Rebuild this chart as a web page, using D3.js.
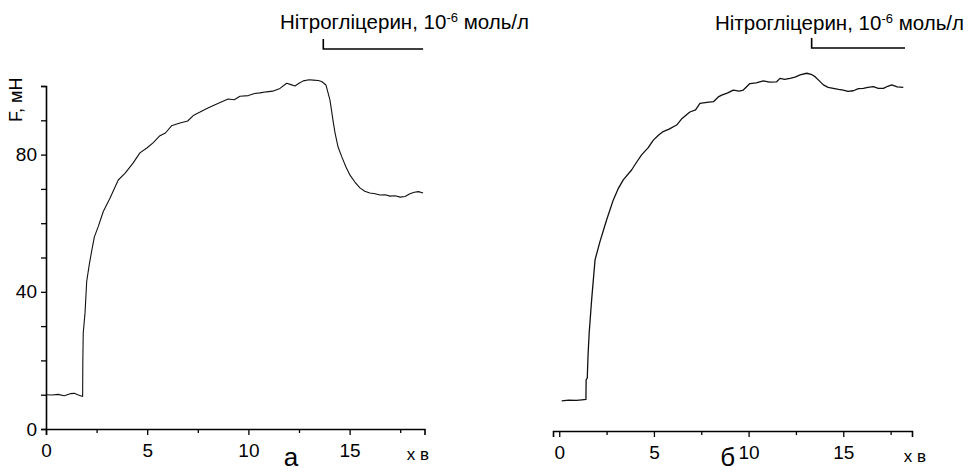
<!DOCTYPE html>
<html>
<head>
<meta charset="utf-8">
<script src="https://cdn.jsdelivr.net/npm/d3@7"></script>
<style>
  body { margin: 0; background: #fff; }
  svg { display: block; font-family: "Liberation Sans", Arial, sans-serif; }
</style>
</head>
<body>
<svg id="chart" width="978" height="472"></svg>
<script>
// панель а: час, хв / сила, мН
const timeA = [0.0, 0.3, 0.6, 0.9, 1.2, 1.4, 1.6, 1.81, 1.82, 1.84, 1.93, 2.01, 2.14, 2.26, 2.39, 2.58, 2.83, 3.16, 3.57,
  3.9, 4.3, 4.64, 5.0, 5.3, 5.63, 5.9, 6.2, 6.62, 7.0, 7.3, 7.61, 8.0, 8.3, 8.6, 9.0, 9.3, 9.58, 10.0, 10.3, 10.57,
  10.9, 11.2, 11.56, 11.89, 12.1, 12.3, 12.5, 12.71, 13.0, 13.2, 13.45, 13.62, 13.83, 14.03, 14.18, 14.28, 14.43,
  14.61, 14.82, 15.02, 15.26, 15.51, 15.75, 16.0, 16.26, 16.5, 16.75, 17.0, 17.24, 17.5, 17.74, 17.98, 18.2, 18.4, 18.63];
const forceA = [10.0, 9.9, 10.1, 9.7, 10.3, 10.4, 9.9, 9.5, 20, 28, 34, 43, 48, 52, 56, 59, 63.4, 67.3, 72.6,
  74.5, 77.5, 80.5, 82, 83.5, 85.5, 86.3, 88.4, 89.2, 89.8, 91.5, 92.4, 93.6, 94.4, 95.2, 96.2, 96.0, 97.0, 97.2, 97.8, 98.0,
  98.3, 98.5, 99.3, 100.8, 100.4, 100.0, 100.8, 101.5, 101.8, 101.7, 101.6, 101.3, 100.3, 95.9, 90, 86.3, 82.2,
  79.4, 76.4, 74, 72, 70.3, 69.3, 68.8, 68.6, 68.2, 68.3, 67.9, 68.0, 67.6, 67.8, 68.6, 69.0, 69.2, 68.8];

// панель б
const timeB = [0.13, 0.5, 0.9, 1.2, 1.41, 1.42, 1.48, 1.52, 1.58, 1.71, 1.89, 2.15, 2.5, 2.85, 3.1, 3.38, 3.82, 4.1,
  4.35, 4.7, 4.97, 5.25, 5.49, 5.8, 6.2, 6.5, 6.9, 7.2, 7.43, 7.8, 8.14, 8.4, 8.58, 8.9, 9.19, 9.5, 9.72, 10.07, 10.4,
  10.78, 11.1, 11.48, 11.66, 11.9, 12.19, 12.45, 12.72, 13.07, 13.3, 13.51, 13.75, 13.95, 14.2, 14.47, 14.75, 15.0,
  15.25, 15.53, 15.8, 16.06, 16.3, 16.59, 16.85, 17.12, 17.35, 17.56, 17.85, 18.17];
const forceB = [8.8, 9.0, 8.9, 9.1, 9.2, 15, 15.4, 22, 28.5, 38.2, 49.9, 55.2, 61.5, 67.3, 70.5, 73.2, 76.1, 78.5,
  80.5, 82.6, 84.8, 86.3, 87.3, 88.0, 89.2, 91.2, 93, 93.6, 95.5, 95.8, 96, 97.4, 97.9, 98.6, 99.4, 99.1, 99.4, 101.3, 101.5,
  102.1, 101.7, 101.8, 102.8, 102.5, 102.8, 103.2, 103.8, 104.3, 104.0, 103.3, 102.0, 100.9, 100.2, 99.9, 99.6, 99.4,
  99.0, 99.2, 99.8, 99.9, 100.2, 100.4, 99.9, 99.9, 100.5, 100.9, 100.3, 100.2];

// нітрогліцерин: початок і кінець, хв
const nitroA = [13.7, 18.63];
const nitroB = [13.33, 18.26];

const xTicks = [0, 2.5, 5, 7.5, 10, 12.5, 15, 17.5];
const xLabels = [0, 5, 10, 15];
const yTicks = [0, 10, 20, 30, 40, 50, 60, 70, 80, 90, 100];
const yLabels = [0, 40, 80];

const svg = d3.select("#chart");
const font = 19;

function panel(opts) {
  const x = d3.scaleLinear().domain(opts.xDomain).range(opts.xRange);
  const y = d3.scaleLinear().domain([0, 100]).range(opts.yRange);
  const g = svg.append("g");

  // вісь x
  const xAxis = g.append("g")
    .attr("transform", `translate(0,${opts.yRange[0]})`)
    .call(d3.axisBottom(x).tickValues(xTicks).tickSizeOuter(0).tickSize(6).tickPadding(9)
      .tickFormat(d => xLabels.includes(d) ? d : ""));
  xAxis.select(".domain").attr("stroke-width", 1.6);
  xAxis.selectAll(".tick line").attr("stroke-width", 1.3)
    .attr("y2", d => xLabels.includes(d) ? 6 : 4);
  xAxis.selectAll(".tick text").attr("font-size", font).attr("font-family", null);

  g.append("text")
    .attr("x", opts.unitX).attr("y", opts.yRange[0] + 31)
    .attr("text-anchor", "middle").attr("font-size", 17)
    .text("х в");

  if (opts.yAxis) {
    const yAxis = g.append("g")
      .attr("transform", `translate(${opts.xRange[0]},0)`)
      .call(d3.axisLeft(y).tickValues(yTicks).tickSizeOuter(0).tickSize(5).tickPadding(4)
        .tickFormat(d => yLabels.includes(d) ? d : ""));
    yAxis.select(".domain").attr("stroke-width", 1.6);
    yAxis.selectAll(".tick line").attr("stroke-width", 1.3);
    yAxis.selectAll(".tick text").attr("font-size", font).attr("font-family", null);

    g.append("text")
      .attr("transform", `translate(${opts.xRange[0] - 24},${y(96)}) rotate(-90)`)
      .attr("text-anchor", "middle").attr("font-size", 18)
      .text("F, мН");
  }

  // крива
  const pts = opts.t.map((t, i) => [t, opts.f[i]]);
  g.append("path")
    .datum(pts)
    .attr("fill", "none")
    .attr("stroke", "#111")
    .attr("stroke-width", opts.lw)
    .attr("stroke-linejoin", "round")
    .attr("d", d3.line().x(d => x(d[0])).y(d => y(d[1])));

  // позначка нітрогліцерину
  const by = opts.barY;
  g.append("path")
    .attr("fill", "none").attr("stroke", "#000").attr("stroke-width", 1.6)
    .attr("d", `M${x(opts.nitro[0])},${by - 10}V${by}H${x(opts.nitro[1])}`);

  const lbl = g.append("text")
    .attr("x", opts.textX).attr("y", opts.textY)
    .attr("font-size", 20.5);
  lbl.append("tspan").text("Нітрогліцерин, 10");
  lbl.append("tspan").attr("font-size", 13).attr("dy", -7).text("-6");
  lbl.append("tspan").attr("dy", 7).text(" моль/л");

  g.append("text")
    .attr("x", x(opts.letterT)).attr("y", 466)
    .attr("text-anchor", "middle").attr("font-size", 26)
    .text(opts.letter);
}

panel({
  t: timeA, f: forceA, nitro: nitroA,
  xDomain: [0, 18.7], xRange: [46, 424.5], yRange: [429, 86],
  yAxis: true, barY: 49, textX: 280, textY: 29, lw: 1.1, letter: "а", letterT: 12.1, unitX: 418
});

panel({
  t: timeB, f: forceB, nitro: nitroB,
  xDomain: [-0.33, 18.63], xRange: [553, 912], yRange: [431, 88],
  yAxis: false, barY: 48, textX: 715, textY: 30, lw: 1.3, letter: "б", letterT: 8.9, unitX: 915
});
</script>
</body>
</html>
